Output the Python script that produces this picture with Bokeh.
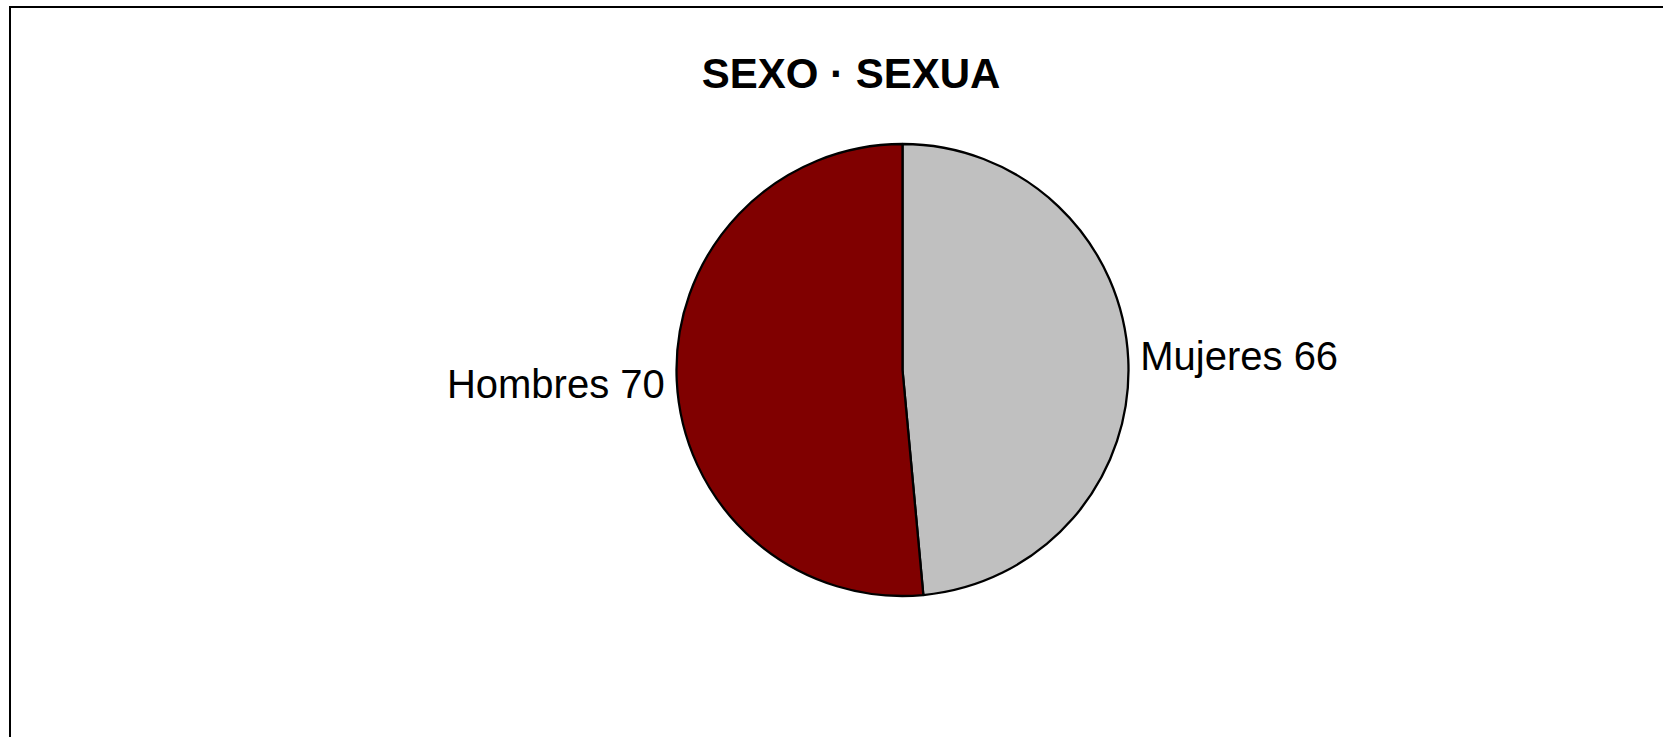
import numpy as np
from bokeh.plotting import figure
from bokeh.models import ColumnDataSource, Range1d
from bokeh.core.properties import value
from bokeh.embed import file_html
from bokeh.resources import INLINE

# ---- data ----
title_text = "SEXO · SEXUA"
categories = ["Mujeres", "Hombres"]
values = [66, 70]
colors = ["#C0C0C0", "#800000"]

# ---- layout (page pixels mapped to data units) ----
W, H = 1663, 737
cx, cy, r = 902.0, 367.5, 226.0

p = figure(width=W, height=H, x_range=Range1d(0, W), y_range=Range1d(0, H),
           output_backend="svg", toolbar_location=None,
           x_axis_type=None, y_axis_type=None, min_border=0,
           outline_line_color=None, background_fill_color="white",
           border_fill_color="white")
p.grid.grid_line_color = None

# chart-area border (only the top and left edges are inside the visible crop)
p.line(x=[9.5, 9.5, W + 10], y=[-10, 730.5, 730.5], line_color="black",
       line_width=2, line_join="miter")

vals = np.array(values, dtype=float)
frac = vals / vals.sum()
ang = 2 * np.pi * frac
start = np.pi / 2 - np.concatenate([[0], np.cumsum(ang)[:-1]])
end = start - ang
mid = (start + end) / 2

src = ColumnDataSource(dict(cat=categories, val=values, color=colors,
                            start=start, end=end))
p.wedge(x=cx, y=cy, radius=r, start_angle="start", end_angle="end",
        direction="clock", fill_color="color", line_color="black",
        line_width=2.3, source=src)

lx = cx + np.cos(mid) * (r + 12)
ly = cy + np.sin(mid) * r * 1.3
align = ["left" if c > 0 else "right" for c in np.cos(mid)]
labels = [f"{c} {v}" for c, v in zip(categories, values)]
lsrc = ColumnDataSource(dict(x=lx, y=ly, text=labels, align=align))
p.text(x="x", y="y", text="text", text_align="align", text_baseline="middle",
       text_font=value("Liberation Sans"), text_font_size="40px",
       text_color="black", source=lsrc)

p.text(x=[850.5], y=[664.3], text=[title_text], text_align="center",
       text_baseline="alphabetic", text_font=value("Liberation Sans"),
       text_font_size="42px", text_font_style="bold", text_color="black")

open("out.html", "w").write(file_html(p, INLINE))
